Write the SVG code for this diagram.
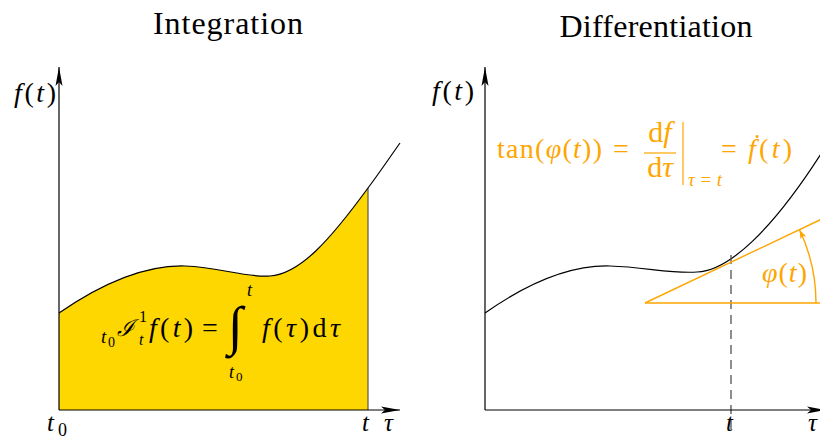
<svg xmlns="http://www.w3.org/2000/svg" width="820" height="442" viewBox="0 0 820 442" font-family="'Liberation Serif', 'DejaVu Serif', serif">
<defs>
<style>
text { font-family: "Liberation Serif", "DejaVu Serif", serif; fill: #000; }
.title { font-size: 32px; text-anchor: middle; }
.it { font-style: italic; }
.m { font-size: 28px; }
.or { fill: #FFA500; }
.axis { stroke: #000; stroke-width: 1.2; fill: none; }
.curve { stroke: #000; stroke-width: 1.2; fill: none; }
.oline { stroke: #FFA500; stroke-width: 1.4; fill: none; }
</style>
<marker id="ax" markerUnits="userSpaceOnUse" markerWidth="20" markerHeight="10" refX="19" refY="5" orient="auto"><path d="M0,1.5 L19,5 L0,8.5 L4,5 Z" fill="#000"/></marker>
<marker id="oa" markerUnits="userSpaceOnUse" markerWidth="10" markerHeight="8" refX="9" refY="4" orient="auto"><path d="M0,0.8 L9,4 L0,7.2 L2,4 Z" fill="#FFA500"/></marker>
</defs>
<rect width="820" height="442" fill="#fff"/>

<g id="integration">
  <text class="title" x="228" y="34" textLength="150">Integration</text>
  <path id="area" fill="#FFD700" d="M59,410 L59,313 C110,278 150,265 185,266 C220,267 245,278 270,276 C300,274 330,240 368,188 L368,410 Z"/>
  <line x1="368" y1="188" x2="368" y2="410" stroke="#555" stroke-width="1.2"/>
  <path class="curve" d="M59,313 C110,278 150,265 185,266 C220,267 245,278 270,276 C300,274 330,240 368,188 C380,172 390,157 400,143"/>
  <line class="axis" x1="59" y1="410" x2="59" y2="67" marker-end="url(#ax)"/>
  <line class="axis" x1="59" y1="410" x2="400" y2="410" marker-end="url(#ax)"/>
  <text class="m" x="14" y="102" textLength="42"><tspan class="it">f</tspan>(<tspan class="it">t</tspan>)</text>
  <text x="47" y="431" font-size="25" class="it">t</text><text x="58" y="436" font-size="18">0</text>
  <text x="362" y="431" font-size="25" class="it">t</text>
  <text x="384" y="431" font-size="25" class="it">τ</text>
  <g id="integral-formula">
    <text x="101" y="343" font-size="19" class="it">t</text><text x="108" y="347" font-size="14">0</text>
    <text x="117" y="336" font-size="23" style="font-family:'DejaVu Serif', serif; font-style:italic">ℐ</text>
    <text x="139" y="322" font-size="16">1</text>
    <text x="139" y="345" font-size="16" class="it">t</text>
    <text class="m" x="149" y="337" textLength="44"><tspan class="it">f</tspan>(<tspan class="it">t</tspan>)</text>
    <text class="m" x="202" y="337">=</text>
    <text x="228" y="344" font-size="54">∫</text>
    <text x="247" y="296" font-size="18" class="it">t</text>
    <text x="229" y="378" font-size="18" class="it">t</text><text x="236" y="381" font-size="13">0</text>
    <text class="m" x="262" y="337" textLength="78"><tspan class="it">f</tspan>(<tspan class="it">τ</tspan>)d<tspan class="it">τ</tspan></text>
  </g>
</g>

<g id="differentiation">
  <text class="title" x="656" y="37" textLength="193">Differentiation</text>
  <path class="curve" d="M485,313 C535,278 575,265 610,266 C645,267 672,274 697,272 C728,271 772,232 826,146"/>
  <line x1="731" y1="255" x2="731" y2="433" stroke="#444" stroke-width="1.2" stroke-dasharray="9 6"/>
  <line class="axis" x1="485" y1="410" x2="485" y2="67" marker-end="url(#ax)"/>
  <line class="axis" x1="485" y1="410" x2="826" y2="410" marker-end="url(#ax)"/>
  <text class="m" x="432" y="100" textLength="42"><tspan class="it">f</tspan>(<tspan class="it">t</tspan>)</text>
  <text x="726" y="431" font-size="25" class="it">t</text>
  <text x="808" y="431" font-size="25" class="it">τ</text>
  <g id="tangent">
    <line class="oline" x1="645" y1="303" x2="826" y2="217"/>
    <line class="oline" x1="645" y1="303" x2="820" y2="303"/>
    <path class="oline" d="M816,303 A171,171 0 0 0 799.5,229.7" marker-end="url(#oa)"/>
    <text class="m or" x="762" y="282" textLength="45"><tspan class="it">φ</tspan>(<tspan class="it">t</tspan>)</text>
  </g>
  <g id="derivative-formula">
    <text class="m or" x="497" y="158" textLength="105">tan(<tspan class="it">φ</tspan>(<tspan class="it">t</tspan>))</text>
    <text class="m or" x="613" y="158">=</text>
    <text class="or" x="660" y="142" font-size="30" text-anchor="middle">d<tspan class="it">f</tspan></text>
    <line x1="644" y1="153" x2="676" y2="153" stroke="#FFA500" stroke-width="1.2"/>
    <text class="or" x="660" y="177" font-size="30" text-anchor="middle">d<tspan class="it">τ</tspan></text>
    <line x1="683" y1="122" x2="683" y2="185" stroke="#FFA500" stroke-width="1.2"/>
    <text class="or" x="688" y="186" font-size="19" textLength="34"><tspan class="it">τ</tspan>=<tspan class="it">t</tspan></text>
    <text class="m or" x="721" y="158">=</text>
    <text class="m or" x="748" y="158" textLength="44"><tspan class="it">ḟ</tspan>(<tspan class="it">t</tspan>)</text>
  </g>
</g>
</svg>
